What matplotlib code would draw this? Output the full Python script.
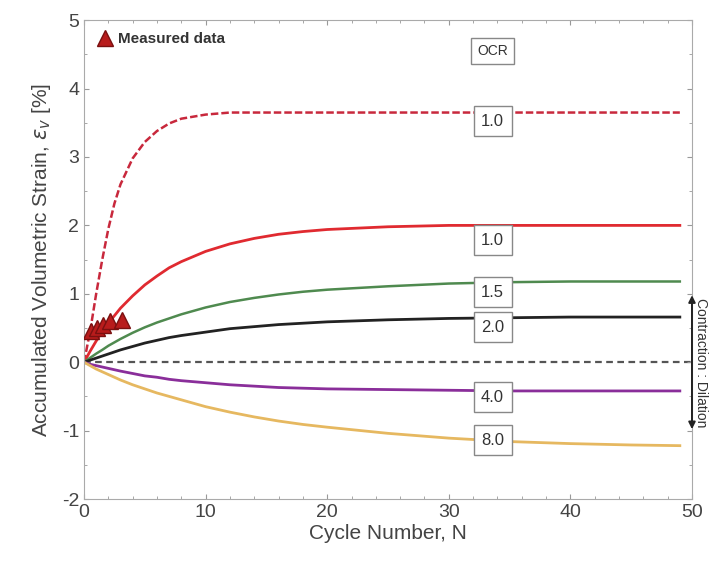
# accumulated volumetric strain vs. cycle number for several OCR values

import matplotlib.pyplot as plt
import numpy as np

plt.rcParams['font.family'] = ['Liberation Sans', 'DejaVu Sans']
plt.rcParams['axes.unicode_minus'] = False

cycles = [0, 0.5, 1, 1.5, 2, 2.5, 3, 4, 5, 6, 7, 8, 10, 12, 14, 16, 18, 20, 25, 30, 35, 40, 45, 49]

ocr1_dashed = [0, 0.45, 1.0, 1.5, 1.95, 2.32, 2.6, 2.98, 3.22, 3.38, 3.49, 3.56, 3.62, 3.65,
               3.65, 3.65, 3.65, 3.65, 3.65, 3.65, 3.65, 3.65, 3.65, 3.65]
ocr1 = [0, 0.16, 0.31, 0.45, 0.57, 0.68, 0.79, 0.97, 1.13, 1.26, 1.38, 1.47, 1.62, 1.73,
        1.81, 1.87, 1.91, 1.94, 1.98, 2.0, 2.0, 2.0, 2.0, 2.0]
ocr15 = [0, 0.064, 0.125, 0.18, 0.24, 0.29, 0.34, 0.43, 0.51, 0.58, 0.64, 0.70, 0.80, 0.88,
         0.94, 0.99, 1.03, 1.06, 1.11, 1.15, 1.17, 1.18, 1.18, 1.18]
ocr2 = [0, 0.03, 0.06, 0.09, 0.12, 0.15, 0.18, 0.23, 0.28, 0.32, 0.36, 0.39, 0.44, 0.49,
        0.52, 0.55, 0.57, 0.59, 0.62, 0.64, 0.65, 0.66, 0.66, 0.66]
ocr4 = [0, -0.03, -0.05, -0.07, -0.09, -0.11, -0.13, -0.165, -0.2, -0.22, -0.25, -0.27, -0.3, -0.33,
        -0.35, -0.37, -0.38, -0.39, -0.40, -0.41, -0.42, -0.42, -0.42, -0.42]
ocr8 = [0, -0.05, -0.1, -0.14, -0.18, -0.22, -0.26, -0.33, -0.39, -0.45, -0.5, -0.55, -0.65, -0.73,
        -0.8, -0.86, -0.91, -0.95, -1.04, -1.11, -1.16, -1.19, -1.21, -1.22]

meas_n = [0.6, 1.1, 1.6, 2.1, 3.1]
meas_ev = [0.45, 0.5, 0.55, 0.6, 0.62]

# OCR box labels and their heights
ocr_labels = ['1.0', '1.0', '1.5', '2.0', '4.0', '8.0']
label_y = [3.52, 1.78, 1.02, 0.51, -0.51, -1.14]

fig = plt.figure(figsize=(7.09, 5.61), dpi=100)
ax = fig.add_axes([0.1185, 0.1105, 0.8575, 0.8535])

ax.axhline(0, color='#555555', lw=1.6, ls=(0, (3, 2)), zorder=1)

ax.plot(cycles, ocr1_dashed, color='#c8283c', lw=1.8, ls=(0, (3, 1.2)))
ax.plot(cycles, ocr1, color='#e02a30', lw=2.0)
ax.plot(cycles, ocr15, color='#4f8a4f', lw=1.8)
ax.plot(cycles, ocr2, color='#222222', lw=2.0)
ax.plot(cycles, ocr4, color='#8a2e9a', lw=2.0)
ax.plot(cycles, ocr8, color='#e6b860', lw=2.0)

ax.plot(meas_n, meas_ev, ls='None', marker='^', ms=11, color='#b81c1c',
        mec='#7a1010', label='Measured data', zorder=5)

box = dict(boxstyle='square,pad=0.45', fc='white', ec='#888888', lw=1.0)
ax.text(33.6, 4.55, 'OCR', fontsize=10, color='#333333', ha='center', va='center', bbox=box)
for txt, yy in zip(ocr_labels, label_y):
    ax.text(33.6, yy, txt, fontsize=12, color='#333333', ha='center', va='center', bbox=box)

ax.set_xlim(0, 50)
ax.set_ylim(-2, 5)
ax.set_xticks([0, 10, 20, 30, 40, 50])
ax.set_yticks([-2, -1, 0, 1, 2, 3, 4, 5])
ax.set_xticks(np.arange(0, 51, 2), minor=True)
ax.set_yticks(np.arange(-2, 5.01, 0.5), minor=True)
ax.tick_params(direction='in', which='both', top=True, right=True, colors='#999999',
               labelcolor='#444444', labelsize=14)
ax.tick_params(which='minor', length=2)
for s in ax.spines.values():
    s.set_color('#aaaaaa')

ax.set_xlabel('Cycle Number, N', fontsize=15, color='#444444', labelpad=2)
ax.set_ylabel(r'Accumulated Volumetric Strain, $\varepsilon_v$ [%]', fontsize=15,
              color='#444444', labelpad=6)

ax.legend(loc='upper left', frameon=False, handletextpad=0.2, borderpad=0.3,
          handlelength=1.2, prop={'size': 11, 'weight': 'bold'}, labelcolor='#333333')

# contraction / dilation arrow along the right edge
ax.annotate('', xy=(50, 1.02), xytext=(50, -1.02),
            arrowprops=dict(arrowstyle='<|-|>', color='#222222', lw=1.4, mutation_scale=10),
            annotation_clip=False)
ax.text(50.75, 0, 'Contraction : Dilation', rotation=270, fontsize=10, color='#333333',
        ha='center', va='center', clip_on=False)

fig.savefig('out.png', dpi=100)
